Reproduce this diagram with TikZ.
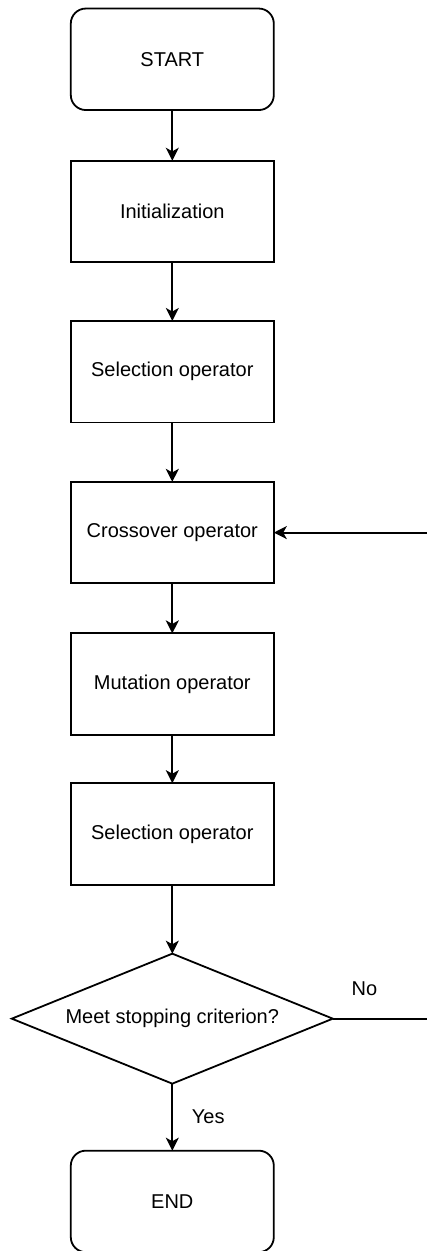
\documentclass[tikz,border=0pt]{standalone}
\usepackage{fontspec}
\setmainfont{Liberation Sans}
\usetikzlibrary{positioning,shapes.geometric,arrows.meta}

\begin{document}
\begin{tikzpicture}[term/.style={draw,rounded corners=7.5pt,line width=0.9pt,minimum width=101.5pt,minimum height=50.75pt,inner sep=0pt,outer sep=0pt,font=\fontsize{10}{12}\selectfont},proc/.style={draw,line width=0.9pt,minimum width=101.5pt,minimum height=50.75pt,inner sep=0pt,outer sep=0pt,font=\fontsize{10}{12}\selectfont},decision/.style={diamond,aspect=2.5,draw,line width=0.9pt,minimum width=160.5pt,minimum height=65pt,inner sep=0pt,outer sep=0pt,font=\fontsize{10}{12}\selectfont},flow/.style={line width=0.9pt,-{Stealth[length=6.5pt,width=6.5pt,inset=1.8pt]}},tag/.style={inner sep=0pt,font=\fontsize{10}{12}\selectfont}]
		\useasboundingbox (0,0) rectangle (213.5pt,-625.5pt);
		\node[term]	at (86.15pt,-29.65pt)						(start)	{START};
		\node[proc,node distance=25.35pt,below=of start]		(init)	{Initialization};
		\node[proc,node distance=29.35pt,below=of init]			(sel)	{Selection operator};
		\node[proc,node distance=29.7pt,below=of sel]			(cross)	{Crossover operator};
		\node[proc,node distance=25pt,below=of cross]			(mut)	{Mutation operator};
		\node[proc,node distance=24.15pt,below=of mut]			(resel)	{Selection operator};
		\node[decision,node distance=34.5pt,below=of resel]		(test)	{Meet stopping criterion?};
		\node[term,node distance=33.5pt,below=of test]			(stop)	{END};
		\node[tag,above right=11.5pt and 9.25pt of test.east]	(no)	{No};
		\coordinate[right=77pt of cross.east]					(back);

		\draw[flow] (start) -- (init);
		\draw[flow] (init) -- (sel);
		\draw[flow] (sel) -- (cross);
		\draw[flow] (cross) -- (mut);
		\draw[flow] (mut) -- (resel);
		\draw[flow] (resel) -- (test);
		\draw[flow] (test) -- node[tag,right=9.35pt] (yes) {Yes} (stop);
		\draw[flow] (test.east) -- (test.east -| back) -- (back) -- (cross.east);
	\end{tikzpicture}
\end{document}
